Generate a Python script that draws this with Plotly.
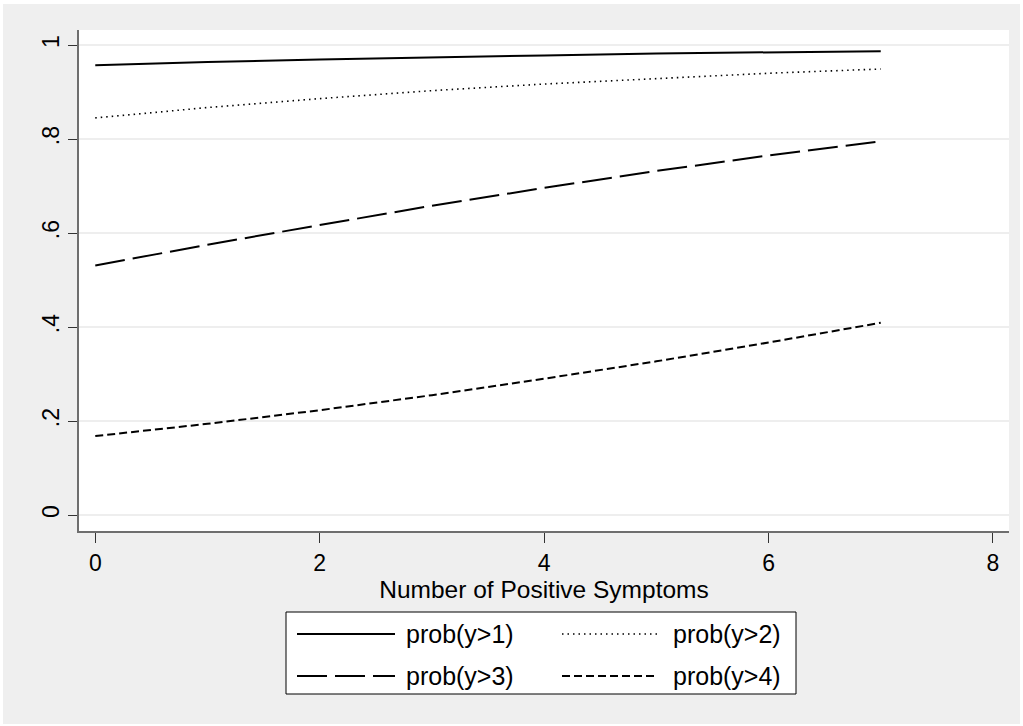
import plotly.graph_objects as go

symptoms = [0, 1, 2, 3, 4, 5, 6, 7]
prob_gt1 = [0.957, 0.964, 0.969, 0.974, 0.978, 0.982, 0.985, 0.987]
prob_gt2 = [0.845, 0.867, 0.886, 0.903, 0.917, 0.929, 0.940, 0.949]
prob_gt3 = [0.531, 0.575, 0.617, 0.658, 0.696, 0.732, 0.765, 0.795]
prob_gt4 = [0.168, 0.194, 0.223, 0.255, 0.290, 0.327, 0.367, 0.409]

series_names = ["prob(y>1)", "prob(y>2)", "prob(y>3)", "prob(y>4)"]
series_vals = [prob_gt1, prob_gt2, prob_gt3, prob_gt4]
styles = [
    dict(dash="solid", width=2),
    dict(dash="1.5px,4px", width=1.6),
    dict(dash="30px,8px", width=2),
    dict(dash="8px,4px", width=2),
]

x_ticks = [0, 2, 4, 6, 8]
y_ticks = [0, 0.2, 0.4, 0.6, 0.8, 1]
y_ticklabels = ["0", ".2", ".4", ".6", ".8", "1"]

FONT = "Liberation Sans, Arial, sans-serif"

W, H = 1023, 726
L, R, T, B = 79, 14, 30, 195
PW, PH = W - L - R, H - T - B


def px_x(p):
    return (p - L) / PW


def px_y(p):
    return (H - B - p) / PH


fig = go.Figure()
for name, vals, st in zip(series_names, series_vals, styles):
    fig.add_trace(go.Scatter(
        x=symptoms, y=vals, mode="lines", name=name,
        line=dict(color="black", width=st["width"], dash=st["dash"]),
        showlegend=False, hoverinfo="skip",
    ))

shapes = []
# thin white border around the gray outer region
for (a0, a1, b0, b1) in [(0, W, 0, 4), (0, W, H - 2, H), (0, 3, 0, H), (W - 3, W, 0, H)]:
    shapes.append(dict(type="rect", xref="paper", yref="paper", layer="below",
                       x0=px_x(a0), x1=px_x(a1), y0=px_y(b0), y1=px_y(b1),
                       fillcolor="white", line=dict(width=0)))
# legend box
shapes.append(dict(type="rect", xref="paper", yref="paper", layer="above",
                   x0=px_x(286), x1=px_x(796), y0=px_y(612), y1=px_y(694),
                   fillcolor="white", line=dict(color="black", width=1)))

annotations = []
legend_pos = {0: (0, 0), 1: (1, 0), 2: (0, 1), 3: (1, 1)}  # (col,row)
col_px = [(297, 395, 404), (562, 658, 671)]
row_px = [634, 676]
for i, name in enumerate(series_names):
    c, r = legend_pos[i]
    lx0, lx1, tx = col_px[c]
    yy = row_px[r]
    st = styles[i]
    shapes.append(dict(type="line", xref="paper", yref="paper", layer="above",
                       x0=px_x(lx0), x1=px_x(lx1), y0=px_y(yy), y1=px_y(yy),
                       line=dict(color="black", width=st["width"], dash=st["dash"])))
    annotations.append(dict(xref="paper", yref="paper", x=px_x(tx), y=px_y(yy),
                            text=name, showarrow=False, xanchor="left",
                            yanchor="middle", font=dict(family=FONT, size=25, color="black")))

fig.update_layout(
    width=W, height=H,
    margin=dict(l=L, r=R, t=T, b=B, pad=0),
    paper_bgcolor="#efefef",
    plot_bgcolor="white",
    font=dict(family=FONT, size=22, color="black"),
    shapes=shapes,
    annotations=annotations,
    showlegend=False,
    hovermode=False,
)

fig.update_xaxes(
    range=[-0.145, 8.143], tickvals=x_ticks, ticktext=[str(v) for v in x_ticks],
    showgrid=False, zeroline=False,
    showline=True, linecolor="#6e6e6e", linewidth=2,
    ticks="outside", ticklen=10, tickwidth=1, tickcolor="#333333",
    tickfont=dict(family=FONT, size=23, color="black"),
    title=dict(text="Number of Positive Symptoms", standoff=2,
               font=dict(family=FONT, size=24.5, color="black")),
)
fig.update_yaxes(
    range=[-0.034, 1.032], tickvals=y_ticks, ticktext=y_ticklabels,
    tickangle=-90,
    showgrid=True, gridcolor="#eeeeee", gridwidth=1.5, zeroline=False,
    showline=True, linecolor="#6e6e6e", linewidth=2,
    ticks="outside", ticklen=9, tickwidth=1, tickcolor="#333333",
    tickfont=dict(family=FONT, size=23, color="black"),
)

fig.write_html("out.html", config={"displayModeBar": False},
               post_script="document.body.style.margin='0';document.body.style.padding='0';")
